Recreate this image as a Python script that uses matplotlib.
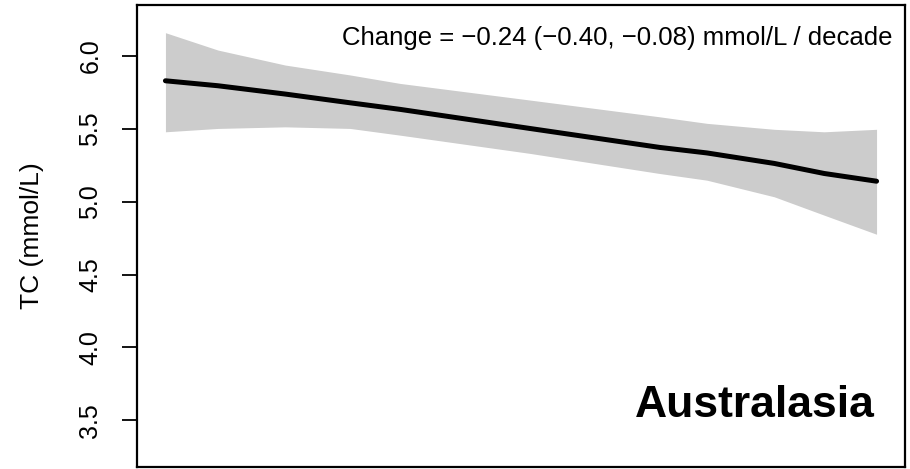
import matplotlib
matplotlib.use("Agg")
import matplotlib.pyplot as plt

# Data
years = [1980, 1982.1, 1984.8, 1987.4, 1989.4, 1994.6, 1999.8, 2001.7, 2004.4, 2006.4, 2008.5]
fit = [5.830, 5.796, 5.739, 5.679, 5.634, 5.503, 5.373, 5.335, 5.263, 5.194, 5.141]
upper = [6.160, 6.041, 5.938, 5.870, 5.812, 5.698, 5.583, 5.538, 5.497, 5.480, 5.497]
lower = [5.480, 5.503, 5.514, 5.503, 5.457, 5.332, 5.194, 5.148, 5.034, 4.908, 4.777]
yticks = [3.5, 4.0, 4.5, 5.0, 5.5, 6.0]
ytick_labels = ["3.5", "4.0", "4.5", "5.0", "5.5", "6.0"]
annotation = "Change = \u22120.24 (\u22120.40, \u22120.08) mmol/L / decade"
region = "Australasia"
ylabel = "TC (mmol/L)"

plt.rcParams['font.family'] = ['Liberation Sans', 'DejaVu Sans']

fig = plt.figure(figsize=(9.1, 4.69), dpi=100)
ax = fig.add_axes([137/910, 2/469, (905-137)/910, (467-5)/469])

ax.fill_between(years, lower, upper, color="#CCCCCC", linewidth=0)
ax.plot(years, fit, color="black", lw=3.6, solid_capstyle="round")

pad = (years[-1] - years[0]) * 0.04
ax.set_xlim(years[0] - pad, years[-1] + pad)
ax.set_ylim(3.18, 6.35)

ax.set_xticks([])
ax.set_yticks(yticks)
ax.set_yticklabels(ytick_labels, rotation=90, va="center", fontsize=18)
ax.tick_params(axis="y", length=11, width=1.3, pad=14)

for s in ax.spines.values():
    s.set_linewidth(1.6)

ax.set_ylabel(ylabel, fontsize=19)
ax.yaxis.label.set_va("center")
ax.yaxis.set_label_coords(-0.137, 0.5)

ax.text(0.984, 0.929, annotation, transform=ax.transAxes, ha="right", va="center", fontsize=18.5)
ax.text(0.961, 0.134, region, transform=ax.transAxes, ha="right", va="center", fontsize=32, fontweight="bold")

fig.savefig("out.png", dpi=100)
